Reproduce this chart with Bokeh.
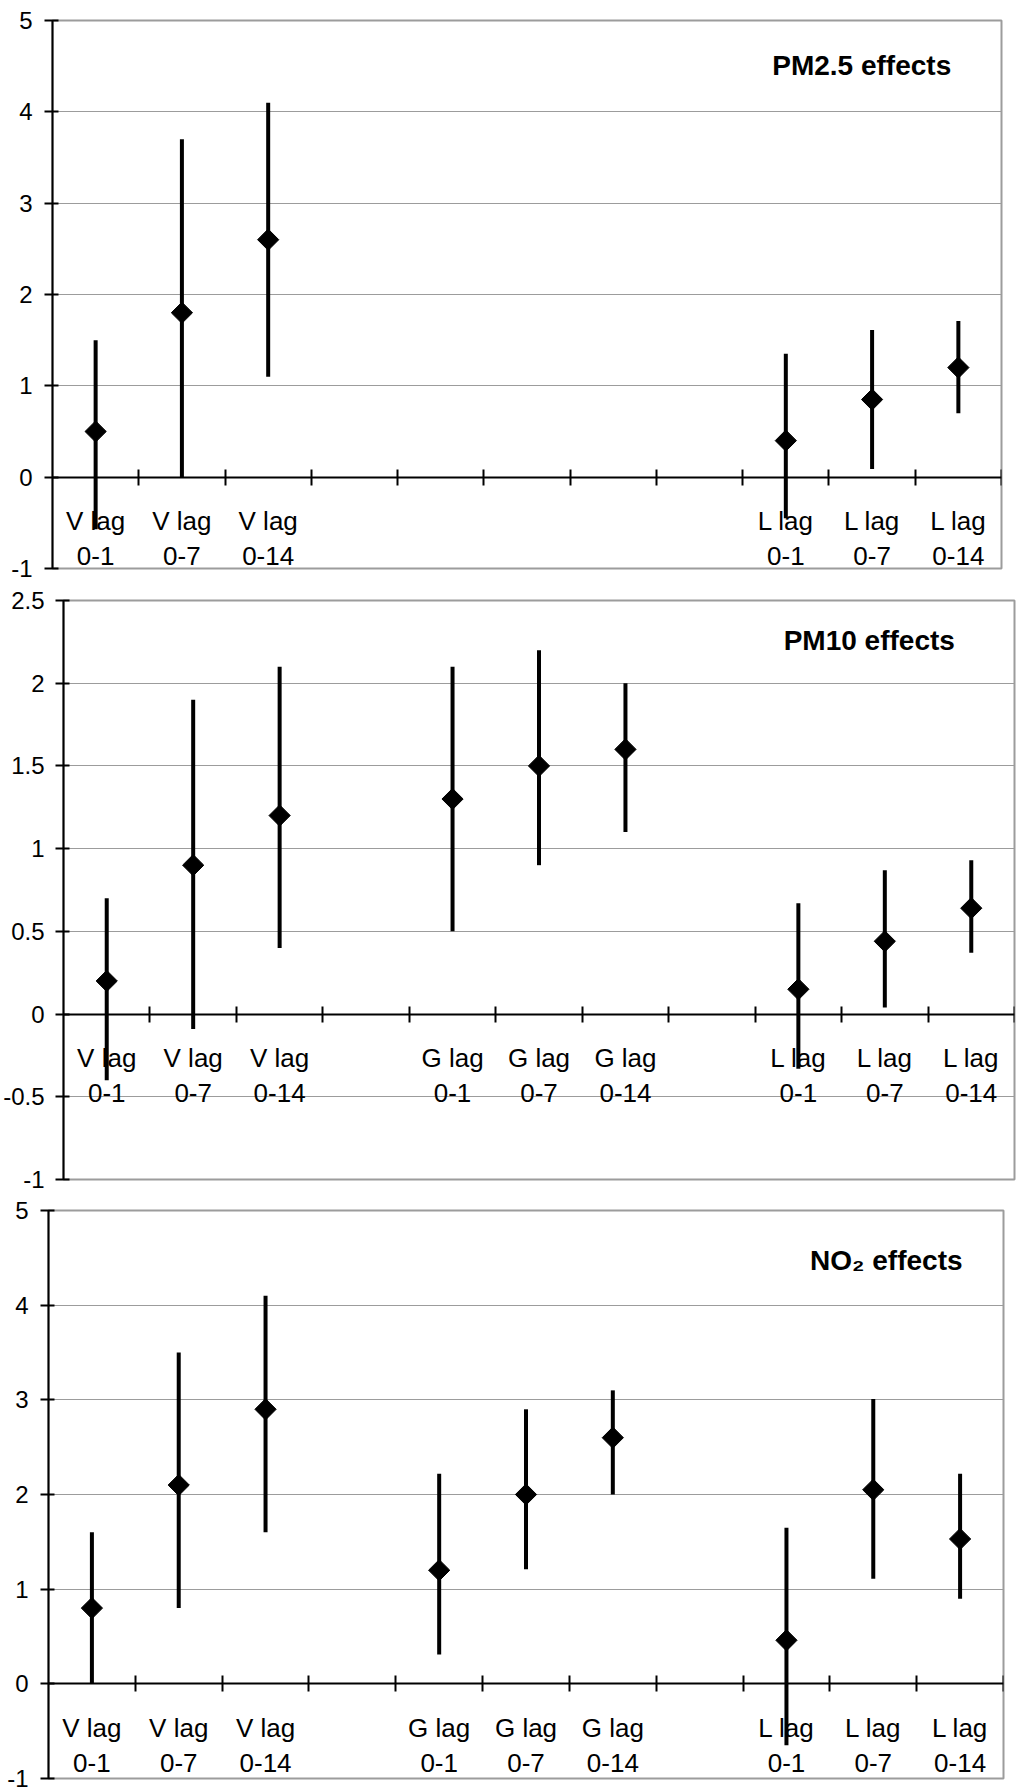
import math
from bokeh.plotting import figure
from bokeh.models import Range1d, FixedTicker, LinearAxis, Label, Grid, ColumnDataSource
from bokeh.layouts import column
from bokeh.embed import file_html
from bokeh.resources import INLINE
from bokeh.core.properties import value

FONT = "Liberation Sans"

# ---- data -------------------------------------------------------------
slots = list(range(11))  # category slots: V x3, gap, G x3, gap, L x3

pm25_top = ["V lag", "V lag", "V lag", "", "", "", "", "", "L lag", "L lag", "L lag"]
pm25_bot = ["0-1", "0-7", "0-14", "", "", "", "", "", "0-1", "0-7", "0-14"]
pm25_est = [0.5, 1.8, 2.6, None, None, None, None, None, 0.4, 0.85, 1.2]
pm25_lo = [-0.57, 0.0, 1.1, None, None, None, None, None, -0.45, 0.09, 0.7]
pm25_hi = [1.5, 3.7, 4.1, None, None, None, None, None, 1.35, 1.61, 1.71]

pm10_top = ["V lag", "V lag", "V lag", "", "G lag", "G lag", "G lag", "", "L lag", "L lag", "L lag"]
pm10_bot = ["0-1", "0-7", "0-14", "", "0-1", "0-7", "0-14", "", "0-1", "0-7", "0-14"]
pm10_est = [0.2, 0.9, 1.2, None, 1.3, 1.5, 1.6, None, 0.15, 0.44, 0.64]
pm10_lo = [-0.4, -0.09, 0.4, None, 0.5, 0.9, 1.1, None, -0.33, 0.04, 0.37]
pm10_hi = [0.7, 1.9, 2.1, None, 2.1, 2.2, 2.0, None, 0.67, 0.87, 0.93]

no2_top = ["V lag", "V lag", "V lag", "", "G lag", "G lag", "G lag", "", "L lag", "L lag", "L lag"]
no2_bot = ["0-1", "0-7", "0-14", "", "0-1", "0-7", "0-14", "", "0-1", "0-7", "0-14"]
no2_est = [0.8, 2.1, 2.9, None, 1.2, 2.0, 2.6, None, 0.46, 2.05, 1.53]
no2_lo = [0.0, 0.8, 1.6, None, 0.31, 1.21, 2.0, None, -0.65, 1.11, 0.9]
no2_hi = [1.6, 3.5, 4.1, None, 2.22, 2.9, 3.1, None, 1.65, 3.01, 2.22]

y5_ticks = [-1, 0, 1, 2, 3, 4, 5]
y5_labels = ["-1", "0", "1", "2", "3", "4", "5"]
y25_ticks = [-1, -0.5, 0, 0.5, 1, 1.5, 2, 2.5]
y25_labels = ["-1", "-0.5", "0", "0.5", "1", "1.5", "2", "2.5"]

titles = ["PM2.5 effects", "PM10 effects", "NO\u2082 effects"]


def make_panel(title, top, bot, est, lo, hi, yticks, ylabels, height,
               b_left, b_right, b_top, b_bottom, title_xy, standoff):
    y0, y1 = yticks[0], yticks[-1]
    p = figure(width=1024, height=height, x_range=Range1d(0, 11),
               y_range=Range1d(y0, y1), output_backend="svg",
               toolbar_location=None, x_axis_location=None, y_axis_location=None,
               min_border_left=b_left, min_border_right=b_right,
               min_border_top=b_top, min_border_bottom=b_bottom)
    try:
        p.frame_align = False
    except Exception:
        pass
    p.center = [r for r in p.center if not isinstance(r, Grid)]
    p.background_fill_color = "white"
    p.border_fill_color = "white"
    p.outline_line_color = "#9c9c9c"
    p.outline_line_width = 2

    yax = LinearAxis(ticker=FixedTicker(ticks=yticks, minor_ticks=[]),
                     major_label_overrides={t: s for t, s in zip(yticks, ylabels)},
                     major_label_text_font=FONT, major_label_text_font_size="24px",
                     major_label_text_color="black", major_label_standoff=standoff,
                     major_tick_in=6, major_tick_out=8,
                     major_tick_line_width=2, major_tick_line_color="black",
                     minor_tick_line_color=None,
                     axis_line_width=2, axis_line_color="black")
    p.add_layout(yax, "left")
    p.add_layout(Grid(dimension=1, ticker=yax.ticker,
                      grid_line_color="#9c9c9c", grid_line_width=1.2))

    # x axis crossing at 0, ticks between categories
    bticks = list(range(1, 12))
    xax = LinearAxis(ticker=FixedTicker(ticks=bticks, minor_ticks=[]),
                     fixed_location=0,
                     major_label_overrides={t: "" for t in bticks},
                     major_label_text_font_size="0px", major_label_text_color=None,
                     major_label_standoff=0,
                     major_tick_in=8, major_tick_out=8,
                     major_tick_line_width=2, major_tick_line_color="black",
                     minor_tick_line_color=None,
                     axis_line_width=2, axis_line_color="black")
    p.add_layout(xax, "below")

    xs = [i + 0.5 for i in slots]
    lab = ColumnDataSource(dict(x=[x for x, t in zip(xs, top) if t],
                                y=[0 for t in top if t],
                                top=[t for t in top if t],
                                bot=[b for t, b in zip(top, bot) if t]))
    p.text(x="x", y="y", text="top", source=lab, text_font=value(FONT),
           text_font_size="26px", text_align="center", text_baseline="middle",
           text_color="black", y_offset=44)
    p.text(x="x", y="y", text="bot", source=lab, text_font=value(FONT),
           text_font_size="26px", text_align="center", text_baseline="middle",
           text_color="black", y_offset=79)

    keep = [i for i, e in enumerate(est) if e is not None]
    src = ColumnDataSource(dict(x=[xs[i] for i in keep], est=[est[i] for i in keep],
                                lo=[lo[i] for i in keep], hi=[hi[i] for i in keep]))
    p.segment(x0="x", y0="lo", x1="x", y1="hi", source=src,
              line_color="black", line_width=4)
    p.scatter(x="x", y="est", source=src, marker="square", size=15,
              angle=math.pi / 4, fill_color="black", line_color="black")

    p.add_layout(Label(x=title_xy[0], y=title_xy[1], text=title, text_font=FONT,
                       text_font_style="bold", text_font_size="28px",
                       text_align="center", text_baseline="middle",
                       text_color="black"))
    return p


p1 = make_panel(titles[0], pm25_top, pm25_bot, pm25_est, pm25_lo, pm25_hi,
                y5_ticks, y5_labels, 584, 52, 23, 20, 16, (9.38, 4.51), 12)
p2 = make_panel(titles[1], pm10_top, pm10_bot, pm10_est, pm10_lo, pm10_hi,
                y25_ticks, y25_labels, 608, 61, 10, 16, 13, (9.32, 2.26), 11)
p3 = make_panel(titles[2], no2_top, no2_bot, no2_est, no2_lo, no2_hi,
                y5_ticks, y5_labels, 600, 48, 21, 18, 14, (9.65, 4.47), 12)

layout = column(p1, p2, p3, spacing=0)
open("out.html", "w").write(file_html(layout, INLINE))
